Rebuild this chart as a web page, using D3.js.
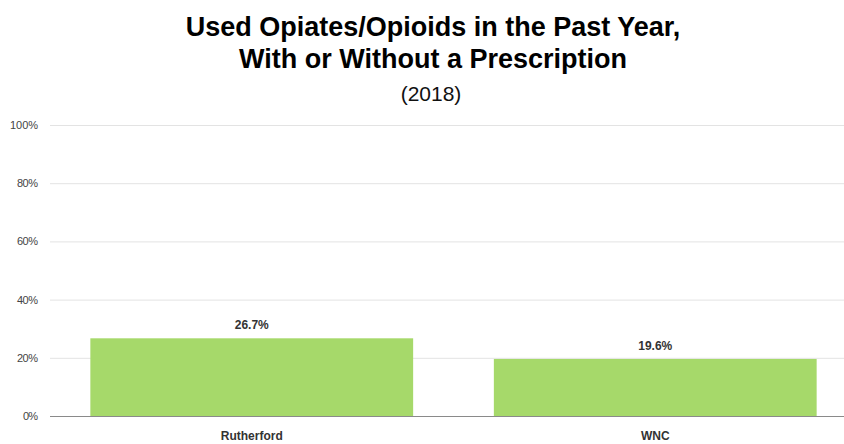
<!DOCTYPE html>
<html>
<head>
<meta charset="utf-8">
<script src="https://cdn.jsdelivr.net/npm/d3@7"></script>
<style>
  body { margin: 0; background: #fff; }
  text { font-family: "Liberation Sans", Arial, sans-serif; }
</style>
</head>
<body>
<svg id="chart"></svg>
<script>
// chart data
var categories = ['Rutherford', 'WNC'];
var values = [26.7, 19.6];
var tickValues = [0, 20, 40, 60, 80, 100];
var titleLines = ['Used Opiates/Opioids in the Past Year,', 'With or Without a Prescription'];
var subtitle = '(2018)';

var width = 844,
    height = 444;

var svg = d3.select('#chart')
  .attr('width', width)
  .attr('height', height);

var x = d3.scaleBand()
  .domain(categories)
  .range([50, 857])
  .paddingInner(0.2)
  .paddingOuter(0.1);

var y = d3.scaleLinear()
  .domain([0, 100])
  .range([416, 125]);

// gridlines
svg.append('g')
  .selectAll('line')
  .data(tickValues.filter(function(d) { return d > 0; }))
  .enter().append('line')
    .attr('x1', 50)
    .attr('x2', width)
    .attr('y1', function(d) { return y(d) + 0.5; })
    .attr('y2', function(d) { return y(d) + 0.5; })
    .attr('stroke', '#e3e3e3')
    .attr('stroke-width', 1);

// tick labels
svg.append('g')
  .selectAll('text')
  .data(tickValues)
  .enter().append('text')
    .attr('x', 38)
    .attr('y', function(d) { return y(d) + 4; })
    .attr('text-anchor', 'end')
    .attr('font-size', '11px')
    .attr('fill', '#444')
    .attr('textLength', function(d) { return d === 100 ? 28 : (d === 0 ? 15 : 21); })
    .text(function(d) { return d + '%'; });

// bars
svg.append('g')
  .selectAll('rect')
  .data(values)
  .enter().append('rect')
    .attr('x', function(d, i) { return x(categories[i]); })
    .attr('y', function(d) { return y(d); })
    .attr('width', x.bandwidth())
    .attr('height', function(d) { return y(0) - y(d); })
    .attr('fill', '#a6d96a');

// value labels
svg.append('g')
  .selectAll('text')
  .data(values)
  .enter().append('text')
    .attr('x', function(d, i) { return x(categories[i]) + x.bandwidth() / 2; })
    .attr('y', function(d) { return y(d) - 9; })
    .attr('text-anchor', 'middle')
    .attr('font-size', '12px')
    .attr('font-weight', 'bold')
    .attr('fill', '#333')
    .text(function(d) { return d.toFixed(1) + '%'; });

// baseline
svg.append('line')
  .attr('x1', 50)
  .attr('x2', width)
  .attr('y1', y(0) + 0.5)
  .attr('y2', y(0) + 0.5)
  .attr('stroke', '#8a8a8a')
  .attr('stroke-width', 1);

// category labels
svg.append('g')
  .selectAll('text')
  .data(categories)
  .enter().append('text')
    .attr('x', function(d) { return x(d) + x.bandwidth() / 2; })
    .attr('y', 440)
    .attr('text-anchor', 'middle')
    .attr('font-size', '12px')
    .attr('font-weight', 'bold')
    .attr('fill', '#333')
    .text(function(d) { return d; });

// title
svg.append('g')
  .selectAll('text')
  .data(titleLines)
  .enter().append('text')
    .attr('x', 433)
    .attr('y', function(d, i) { return 36 + i * 32; })
    .attr('text-anchor', 'middle')
    .attr('font-size', '27px')
    .attr('font-weight', 'bold')
    .attr('fill', '#000')
    .text(function(d) { return d; });

svg.append('text')
  .attr('x', 431)
  .attr('y', 101)
  .attr('text-anchor', 'middle')
  .attr('font-size', '21px')
  .attr('fill', '#111')
  .text(subtitle);
</script>
</body>
</html>
